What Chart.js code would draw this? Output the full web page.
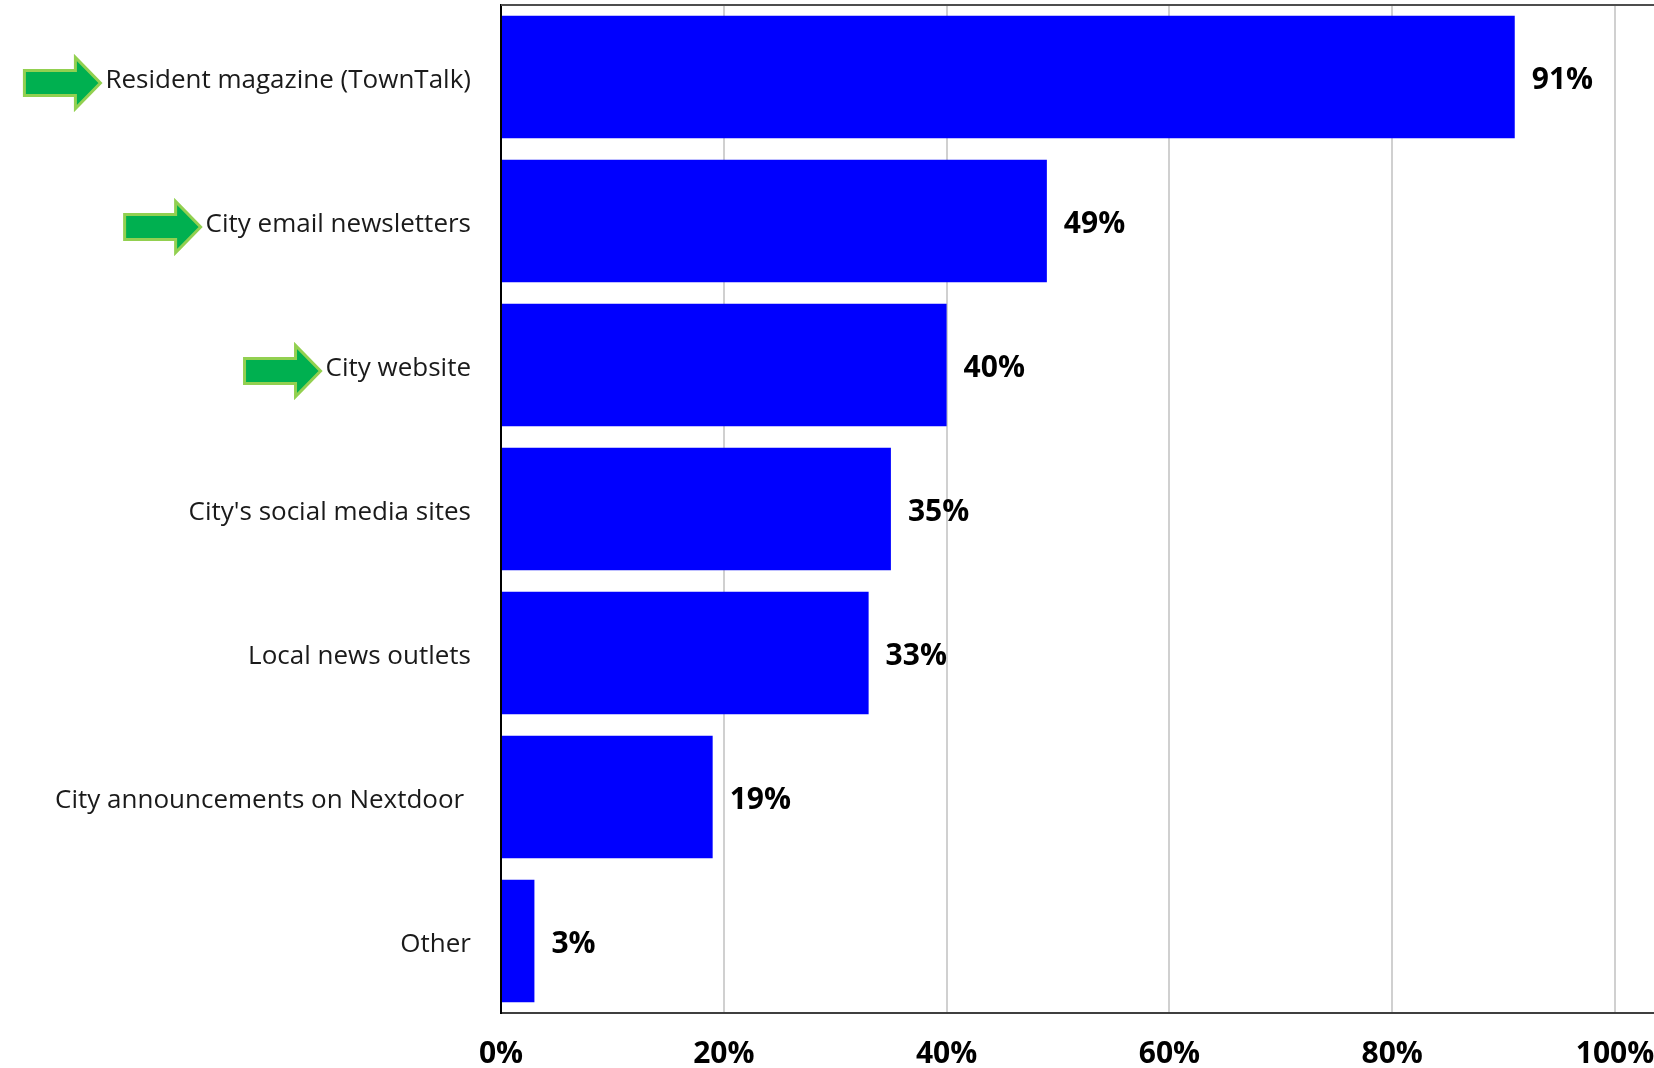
<!DOCTYPE html>
<html>
<head>
<meta charset="utf-8">
<script src="https://cdn.jsdelivr.net/npm/chart.js@4.4.0/dist/chart.umd.min.js"></script>
<style>
    html, body { margin: 0; padding: 0; background: #fff; }
    #wrap { width: 1654px; height: 1068px; }
</style>
</head>
<body>
<div id="wrap"><canvas id="sourcesChart"></canvas></div>
<script>
const categories = [
    "Resident magazine (TownTalk)",
    "City email newsletters",
    "City website",
    "City's social media sites",
    "Local news outlets",
    "City announcements on Nextdoor ",
    "Other",
];
const shares = [91, 49, 40, 35, 33, 19, 3];
const arrowed = [0, 1, 2]; // categories flagged with a green arrow
const xTicks = [0, 20, 40, 60, 80, 100];

const FONT = "'Open Sans', Lato, sans-serif";
const LABEL_SIZE = 26;
const LABEL_SHIFT = 4; // category labels sit a touch below the bar centre

// green block arrow pointing right, tip at (tipX, cy)
function drawArrow(ctx, tipX, cy) {
    const len = 76, head = 25, halfHead = 25.5, halfShaft = 12.5;
    ctx.beginPath();
    ctx.moveTo(tipX - len, cy - halfShaft);
    ctx.lineTo(tipX - head, cy - halfShaft);
    ctx.lineTo(tipX - head, cy - halfHead);
    ctx.lineTo(tipX, cy);
    ctx.lineTo(tipX - head, cy + halfHead);
    ctx.lineTo(tipX - head, cy + halfShaft);
    ctx.lineTo(tipX - len, cy + halfShaft);
    ctx.closePath();
    ctx.fillStyle = "#00b050";
    ctx.fill();
    ctx.strokeStyle = "#92d050";
    ctx.lineWidth = 3;
    ctx.lineJoin = "miter";
    ctx.stroke();
}

const extras = {
    id: "extras",
    afterDraw(chart) {
        const { ctx, chartArea, scales: { x, y } } = chart;
        ctx.save();

        // top edge of the plot frame
        ctx.strokeStyle = "#4d4d4d";
        ctx.lineWidth = 2;
        ctx.beginPath();
        ctx.moveTo(chartArea.left, chartArea.top);
        ctx.lineTo(chartArea.right, chartArea.top);
        ctx.stroke();

        // value labels at the end of each bar
        ctx.font = "bold 30px " + FONT;
        ctx.fillStyle = "#000";
        ctx.textAlign = "left";
        ctx.textBaseline = "middle";
        shares.forEach((v, i) => {
            ctx.fillText(v + "%", x.getPixelForValue(v) + 17, y.getPixelForValue(i) + 3);
        });

        // arrows in front of the highlighted category labels
        ctx.font = LABEL_SIZE + "px " + FONT;
        const labelRight = y.right - y.options.ticks.padding;
        arrowed.forEach((i) => {
            const w = ctx.measureText(categories[i]).width;
            drawArrow(ctx, labelRight - w - 5, y.getPixelForValue(i) + LABEL_SHIFT + 2);
        });

        ctx.restore();
    },
};

const ctx = document.getElementById("sourcesChart").getContext("2d");

new Chart(ctx, {
    type: "bar",
    data: {
        labels: categories,
        datasets: [
            {
                data: shares,
                backgroundColor: "#0000ff",
                borderWidth: 0,
                categoryPercentage: 0.85,
                barPercentage: 1,
            },
        ],
    },
    options: {
        indexAxis: "y",
        responsive: true,
        maintainAspectRatio: false,
        animation: false,
        devicePixelRatio: 1,
        layout: { padding: { top: 5, right: 0, bottom: 0, left: 0 } },
        plugins: {
            legend: { display: false },
            tooltip: { enabled: false },
        },
        scales: {
            x: {
                min: 0,
                max: 103.5, // frame runs a little past 100%
                afterBuildTicks: (scale) => {
                    scale.ticks = xTicks.map((v) => ({ value: v }));
                },
                afterFit: (scale) => {
                    scale.height = 55;
                    scale.paddingLeft = 0;
                    scale.paddingRight = 0;
                },
                grid: { color: "#d0d0d0", lineWidth: 2, drawTicks: false },
                border: { color: "#3f3f3f", width: 2 },
                ticks: {
                    color: "#000",
                    padding: 23,
                    font: { family: FONT, size: 30, weight: "bold" },
                    callback: (v) => v + "%",
                },
            },
            y: {
                afterFit: (scale) => {
                    scale.width = 501;
                    scale.paddingTop = 0;
                    scale.paddingBottom = 0;
                },
                grid: { display: false, drawTicks: false },
                border: { display: true, color: "#000", width: 2 },
                ticks: {
                    color: "#1a1a1a",
                    padding: 30,
                    labelOffset: LABEL_SHIFT,
                    font: { family: FONT, size: LABEL_SIZE },
                },
            },
        },
    },
    plugins: [extras],
});
</script>
</body>
</html>
